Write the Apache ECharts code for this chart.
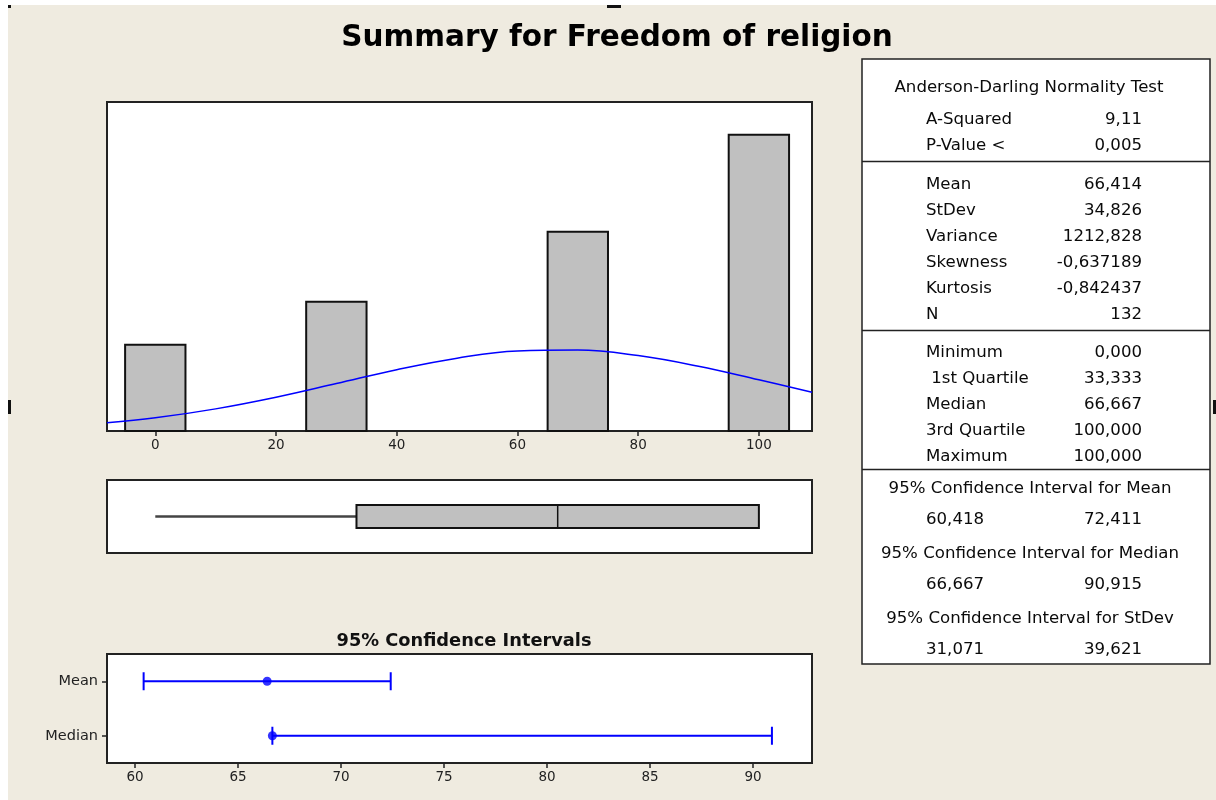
<!DOCTYPE html>
<html>
<head>
<meta charset="utf-8">
<script src="https://cdn.jsdelivr.net/npm/echarts@6/dist/echarts.min.js"></script>
<style>
  html, body { margin: 0; padding: 0; background: #EFEBE0; }
  #main { width: 1216px; height: 800px; }
</style>
</head>
<body>
<div id="main"></div>
<script>
// histogram (bins of width 10)
const binCenters = [0, 30, 70, 100];
const binCounts = [16, 24, 37, 55];
const binWidth = 10;
const histTicks = [0, 20, 40, 60, 80, 100];

// fitted normal curve (count scale)
const curveX = [-8, 0, 10, 20, 30, 40, 50, 60, 70, 80, 90, 100, 108.8];
const curveY = [1.54, 2.45, 4.11, 6.27, 8.81, 11.39, 13.53, 14.87, 15.04, 14.01, 12.02, 9.5, 7.21];

// box plot: min, Q1, median, Q3, max
const boxStats = [0, 33.333, 66.667, 100, 100];

// 95% confidence intervals
const ciLabels = ['Mean', 'Median'];
const ciLow = [60.418, 66.667];
const ciCenter = [66.414, 66.667];
const ciHigh = [72.411, 90.915];
const ciTicks = [60, 65, 70, 75, 80, 85, 90];

// summary table
const adLabels = ['A-Squared', 'P-Value <'];
const adValues = ['9,11', '0,005'];
const momLabels = ['Mean', 'StDev', 'Variance', 'Skewness', 'Kurtosis', 'N'];
const momValues = ['66,414', '34,826', '1212,828', '-0,637189', '-0,842437', '132'];
const qLabels = ['Minimum', ' 1st Quartile', 'Median', '3rd Quartile', 'Maximum'];
const qValues = ['0,000', '33,333', '66,667', '100,000', '100,000'];
const ciHeaders = ['95% Confidence Interval for Mean', '95% Confidence Interval for Median', '95% Confidence Interval for StDev'];
const ciTableLow = ['60,418', '66,667', '31,071'];
const ciTableHigh = ['72,411', '90,915', '39,621'];

const FONT = 'DejaVu Sans';
const chart = echarts.init(document.getElementById('main'));

// table text as graphic elements
const tableEls = [];
const txt = (x, y, s, align) => ({
  type: 'text', x: x, y: y,
  style: { text: s, font: '16.6px "' + FONT + '"', fill: '#0a0a0a', align: align, verticalAlign: 'middle' }
});
const hline = y => ({
  type: 'line', shape: { x1: 862, y1: y, x2: 1210, y2: y },
  style: { stroke: '#222', lineWidth: 1.5 }
});
tableEls.push({
  type: 'rect', shape: { x: 862, y: 59, width: 348, height: 605 },
  style: { fill: '#fff', stroke: '#222', lineWidth: 1.5 }
});
tableEls.push(txt(1029, 88, 'Anderson-Darling Normality Test', 'center'));
adLabels.forEach((l, i) => {
  tableEls.push(txt(926, 119.5 + i * 26.5, l, 'left'));
  tableEls.push(txt(1142, 119.5 + i * 26.5, adValues[i], 'right'));
});
tableEls.push(hline(161.5));
momLabels.forEach((l, i) => {
  tableEls.push(txt(926, 184.5 + i * 26, l, 'left'));
  tableEls.push(txt(1142, 184.5 + i * 26, momValues[i], 'right'));
});
tableEls.push(hline(330.5));
qLabels.forEach((l, i) => {
  tableEls.push(txt(926, 352.5 + i * 26, l, 'left'));
  tableEls.push(txt(1142, 352.5 + i * 26, qValues[i], 'right'));
});
tableEls.push(hline(469.5));
ciHeaders.forEach((h, i) => {
  tableEls.push(txt(1030, 488.5 + i * 65, h, 'center'));
  tableEls.push(txt(926, 520 + i * 65, ciTableLow[i], 'left'));
  tableEls.push(txt(1142, 520 + i * 65, ciTableHigh[i], 'right'));
});

chart.setOption({
  backgroundColor: '#EFEBE0',
  animation: false,
  title: [
    {
      text: 'Summary for Freedom of religion',
      left: 612, top: 18, textAlign: 'center',
      textStyle: { fontFamily: FONT, fontWeight: 'bold', fontSize: 29.5, color: '#000' }
    },
    {
      text: '95% Confidence Intervals',
      left: 459, top: 627, textAlign: 'center',
      textStyle: { fontFamily: FONT, fontWeight: 'bold', fontSize: 17.8, color: '#111' }
    }
  ],
  grid: [
    { left: 107, top: 102, width: 705, height: 329, show: true, backgroundColor: '#fff', borderColor: '#222', borderWidth: 2 },
    { left: 107, top: 480, width: 705, height: 73, show: true, backgroundColor: '#fff', borderColor: '#222', borderWidth: 2 },
    { left: 107, top: 654, width: 705, height: 109, show: true, backgroundColor: '#fff', borderColor: '#222', borderWidth: 2 }
  ],
  xAxis: [
    {
      gridIndex: 0, type: 'value', min: -8, max: 108.8,
      axisLine: { show: false }, splitLine: { show: false },
      axisTick: { show: true, length: 5, lineStyle: { color: '#222', width: 1.5 }, customValues: histTicks },
      axisLabel: { color: '#222', fontFamily: FONT, fontSize: 13.5, margin: 7, customValues: histTicks }
    },
    {
      gridIndex: 1, type: 'value', min: -8, max: 108.8, show: false
    },
    {
      gridIndex: 2, type: 'value', min: 58.64, max: 92.86,
      axisLine: { show: false }, splitLine: { show: false },
      axisTick: { show: true, length: 5, lineStyle: { color: '#222', width: 1.5 }, customValues: ciTicks },
      axisLabel: { color: '#222', fontFamily: FONT, fontSize: 13.5, margin: 7, customValues: ciTicks }
    }
  ],
  yAxis: [
    { gridIndex: 0, type: 'value', min: 0, max: 61.1, show: false },
    { gridIndex: 1, type: 'value', min: 0, max: 1, show: false },
    {
      gridIndex: 2, type: 'category', data: ciLabels, inverse: true,
      axisLine: { show: false }, splitLine: { show: false },
      axisTick: { show: true, alignWithLabel: true, length: 5, lineStyle: { color: '#222', width: 1.5 } },
      axisLabel: { color: '#222', fontFamily: FONT, fontSize: 14.5, margin: 9 }
    }
  ],
  series: [
    {
      type: 'custom', xAxisIndex: 0, yAxisIndex: 0,
      data: binCenters.map((c, i) => [c, binCounts[i]]),
      renderItem: (params, api) => {
        const c = api.value(0);
        const p0 = api.coord([c - binWidth / 2, api.value(1)]);
        const p1 = api.coord([c + binWidth / 2, 0]);
        return {
          type: 'rect',
          shape: { x: p0[0], y: p0[1], width: p1[0] - p0[0], height: p1[1] - p0[1] },
          style: { fill: '#C0C0C0', stroke: '#111', lineWidth: 2 }
        };
      }
    },
    {
      type: 'line', xAxisIndex: 0, yAxisIndex: 0, z: 5,
      data: curveX.map((x, i) => [x, curveY[i]]),
      smooth: 0.4, showSymbol: false, clip: true,
      lineStyle: { color: '#0000FF', width: 1.5 }
    },
    {
      type: 'custom', xAxisIndex: 1, yAxisIndex: 1,
      data: [boxStats],
      renderItem: (params, api) => {
        const mid = api.coord([api.value(0), 0.5])[1];
        const xMin = api.coord([api.value(0), 0.5])[0];
        const xQ1 = api.coord([api.value(1), 0.5])[0];
        const xMed = api.coord([api.value(2), 0.5])[0];
        const xQ3 = api.coord([api.value(3), 0.5])[0];
        const xMax = api.coord([api.value(4), 0.5])[0];
        const h = 11.5;
        const ls = { stroke: '#444', lineWidth: 2.5 };
        return {
          type: 'group',
          children: [
            { type: 'line', shape: { x1: xMin, y1: mid, x2: xQ1, y2: mid }, style: ls },
            { type: 'line', shape: { x1: xQ3, y1: mid, x2: xMax, y2: mid }, style: ls },
            { type: 'rect', shape: { x: xQ1, y: mid - h, width: xQ3 - xQ1, height: 2 * h }, style: { fill: '#C0C0C0', stroke: '#111', lineWidth: 2 } },
            { type: 'line', shape: { x1: xMed, y1: mid - h, x2: xMed, y2: mid + h }, style: { stroke: '#111', lineWidth: 1.5 } }
          ]
        };
      }
    },
    {
      type: 'custom', xAxisIndex: 2, yAxisIndex: 2,
      data: ciLabels.map((l, i) => [i, ciLow[i], ciHigh[i]]),
      renderItem: (params, api) => {
        const lo = api.coord([api.value(1), api.value(0)]);
        const hi = api.coord([api.value(2), api.value(0)]);
        const cap = 9;
        const ls = { stroke: '#0000FF', lineWidth: 2 };
        return {
          type: 'group',
          children: [
            { type: 'line', shape: { x1: lo[0], y1: lo[1], x2: hi[0], y2: hi[1] }, style: ls },
            { type: 'line', shape: { x1: lo[0], y1: lo[1] - cap, x2: lo[0], y2: lo[1] + cap }, style: ls },
            { type: 'line', shape: { x1: hi[0], y1: hi[1] - cap, x2: hi[0], y2: hi[1] + cap }, style: ls }
          ]
        };
      }
    },
    {
      type: 'scatter', xAxisIndex: 2, yAxisIndex: 2, z: 5,
      data: ciCenter.map((v, i) => [v, ciLabels[i]]),
      symbol: 'circle', symbolSize: 9,
      itemStyle: { color: '#0000FF' }
    }
  ],
  graphic: [
    { type: 'rect', shape: { x: 0, y: 0, width: 1216, height: 5 }, style: { fill: '#fff' } },
    { type: 'rect', shape: { x: 0, y: 0, width: 8, height: 800 }, style: { fill: '#fff' } },
    { type: 'rect', shape: { x: 8, y: 5, width: 3, height: 3 }, style: { fill: '#111' } },
    { type: 'rect', shape: { x: 607, y: 5, width: 14, height: 3 }, style: { fill: '#111' } },
    { type: 'rect', shape: { x: 8, y: 400, width: 3, height: 14 }, style: { fill: '#111' } },
    { type: 'rect', shape: { x: 1213, y: 400, width: 3, height: 14 }, style: { fill: '#111' } }
  ].concat(tableEls)
});
</script>
</body>
</html>
